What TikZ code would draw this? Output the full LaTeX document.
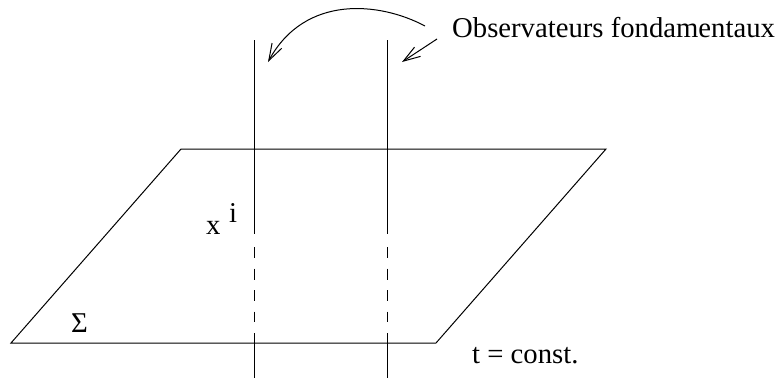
\documentclass[tikz,border=0pt]{standalone}
\usepackage{fontspec}
\setmainfont{Liberation Serif}
\usetikzlibrary{arrows.meta}
\begin{document}
\begin{tikzpicture}[x=1pt,y=-1pt,
  ln/.style={line width=1pt,black},
  dsh/.style={line width=1pt,black,dash pattern=on 11pt off 10.5pt},
  lbl/.style={inner sep=0pt,anchor=base west,font=\fontsize{28.7}{30}\selectfont},
  arr/.style={line width=1pt,-{Straight Barb[length=17pt,width=11pt,line width=1pt]}}]
\useasboundingbox (0,0) rectangle (777,378);
% plane
\coordinate (p1) at (181,149);
\coordinate (p2) at (606,149);
\coordinate (p3) at (436,343);
\coordinate (p4) at (11,343);
\draw[ln,line join=miter] (p1) -- (p2) -- (p3) -- (p4) -- cycle;
% world lines
\foreach \n/\x in {a/254,b/387}{
  \coordinate (\n top) at (\x,40);
  \coordinate (\n s1) at (\x,234);
  \coordinate (\n d1) at (\x,247);
  \coordinate (\n d2) at (\x,322);
  \coordinate (\n s2) at (\x,333);
  \coordinate (\n bot) at (\x,378);
  \draw[ln] (\n top) -- (\n s1);
  \draw[dsh] (\n d1) -- (\n d2);
  \draw[ln] (\n s2) -- (\n bot);
}
% labels
\node[lbl] (obs) at (452,37) {Observateurs fondamentaux};
\node[lbl] (tc) at (472,363) {t = const.};
\node[lbl] (x) at (206,234) {x};
\node[lbl] (i) at (229,222) {i};
\node[lbl] (sig) at (71,332) {Σ};
% arrows
\coordinate (c1s) at (425,26);
\coordinate (c1e) at (268,62);
\coordinate (c2s) at (437,39);
\coordinate (c2e) at (402,62);
\draw[arr] (c1s) .. controls (380,2) and (305,-6) .. (c1e);
\draw[arr] (c2s) -- (c2e);
\end{tikzpicture}
\end{document}
